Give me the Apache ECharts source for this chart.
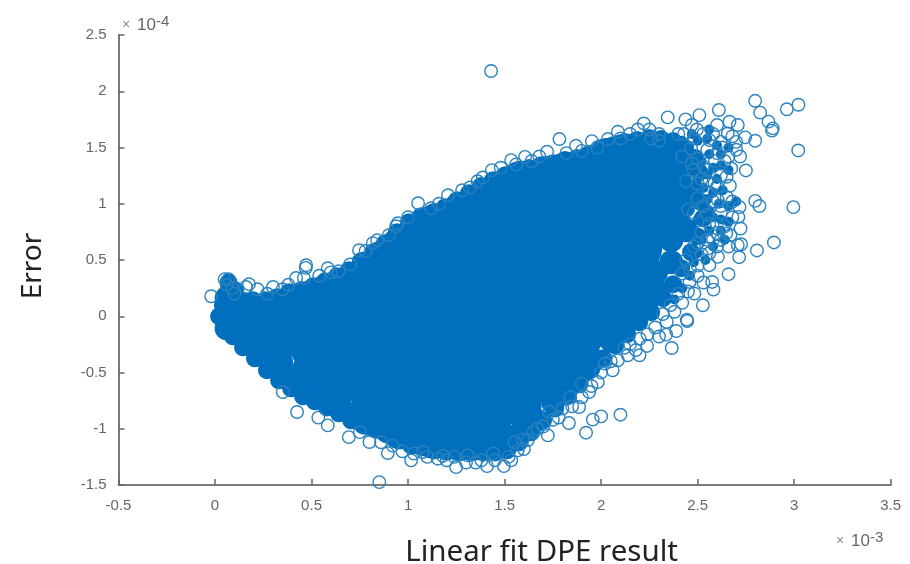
<!DOCTYPE html>
<html>
<head>
<meta charset="utf-8">
<style>html,body{margin:0;padding:0;background:#fff}#c{width:910px;height:564px;filter:blur(0.5px)}</style>
<script src="https://cdn.jsdelivr.net/npm/echarts@6/dist/echarts.min.js"></script>
</head>
<body>
<div id="c"></div>
<script>
// x values are in units of 10^-3, y values in units of 10^-4
const xTicks = [-0.5, 0, 0.5, 1, 1.5, 2, 2.5, 3, 3.5];
const yTicks = [-1.5, -1, -0.5, 0, 0.5, 1, 1.5, 2, 2.5];
const xName = 'Linear fit DPE result';
const yName = 'Error';

// solid interior of the cloud, read column by column
const denseColumns = [
  [0.19, [-0.1]],
  [0.34, [0, -0.2]],
  [0.50, [0.1, -0.1, -0.3, -0.5]],
  [0.65, [0.2, 0, -0.2, -0.4, -0.6]],
  [0.81, [0.4, 0.2, 0, -0.2, -0.4, -0.6, -0.8]],
  [0.96, [0.6, 0.4, 0.2, 0, -0.2, -0.4, -0.6, -0.8, -1.0]],
  [1.12, [0.8, 0.6, 0.4, 0.2, 0, -0.2, -0.4, -0.6, -0.8, -1.0]],
  [1.27, [0.9, 0.7, 0.5, 0.3, 0.1, -0.1, -0.3, -0.5, -0.7, -0.9, -1.1]],
  [1.43, [1.0, 0.8, 0.6, 0.4, 0.2, 0, -0.2, -0.4, -0.6, -0.8, -1.0]],
  [1.585, [1.2, 1.0, 0.8, 0.6, 0.4, 0.2, 0, -0.2, -0.4, -0.6, -0.8]],
  [1.74, [1.2, 1.0, 0.8, 0.6, 0.4, 0.2, 0, -0.2, -0.4, -0.6]],
  [1.90, [1.2, 1.0, 0.8, 0.6, 0.4, 0.2, 0, -0.2, -0.4]],
  [2.05, [1.4, 1.2, 1.0, 0.8, 0.6, 0.4, 0.2, 0]],
  [2.21, [1.4, 1.2, 1.0, 0.8, 0.6, 0.4, 0.2]],
  [2.36, [1.4, 1.2, 1.0, 0.8]]
];

// points that close the cloud up to its edge
const edgePoints = [
  [0.06,0.16],[0.06,0.01],[0.06,-0.107],[0.135,0.116],[0.228,0.071],[0.316,0.098],[0.394,0.142],
  [0.472,0.205],[0.549,0.249],[0.627,0.302],[0.705,0.374],[0.782,0.472],[0.86,0.569],[0.938,0.676],
  [1.016,0.783],[1.093,0.836],[1.171,0.907],[1.249,0.979],[1.326,1.041],[1.404,1.121],[1.482,1.192],
  [1.56,1.254],[1.637,1.281],[1.715,1.317],[1.793,1.343],[1.87,1.37],[1.948,1.415],[2.026,1.477],
  [2.104,1.512],[2.181,1.53],[2.259,1.548],[2.337,1.512],[2.404,1.432],
  [2.425,0.97],[2.363,0.676],[2.285,0.391],[2.207,0.169],[2.13,-0.053],[2.052,-0.214],[1.959,-0.391],
  [1.855,-0.587],[1.751,-0.765],[1.663,-0.925],[1.585,-1.032],[1.508,-1.148],[1.43,-1.174],[1.352,-1.174],
  [1.275,-1.174],[1.197,-1.174],[1.119,-1.157],[1.041,-1.121],[0.964,-1.068],[0.886,-1.014],[0.808,-0.961],
  [0.731,-0.89],[0.653,-0.819],[0.575,-0.73],[0.497,-0.649],[0.42,-0.552],[0.342,-0.409],[0.264,-0.302],
  [0.187,-0.214],[0.124,-0.125],[2.44,1.343],[2.44,1.032],[2.44,0.765],[2.363,0.48],[2.285,0.231],[2.207,0.098]
];

// points on the rim of the solid area
const rimPoints = [
  [0.041,0.098],[0.07,0.3],[0.073,0.231],[0.104,0.231],[0.135,0.142],[0.197,0.142],[0.259,0.142],[0.321,0.169],[0.383,0.214],
  [0.446,0.231],[0.508,0.267],[0.57,0.311],[0.632,0.356],[0.694,0.409],[0.756,0.489],[0.819,0.569],[0.881,0.649],
  [0.943,0.747],[1.005,0.836],[1.067,0.89],[1.13,0.925],[1.192,0.97],[1.254,1.032],[1.316,1.094],[1.378,1.157],
  [1.44,1.21],[1.503,1.254],[1.565,1.29],[1.627,1.317],[1.689,1.343],[1.751,1.361],[1.813,1.388],[1.876,1.406],
  [1.938,1.441],[2.0,1.495],[2.062,1.521],[2.124,1.548],[2.187,1.566],[2.249,1.584],[2.311,1.575],[2.373,1.557],
  [2.435,1.495],[2.487,1.406],[2.508,1.281],[2.487,1.139],[2.518,1.014],[2.528,0.872],[2.497,0.712],[2.466,0.569],
  [2.415,0.427],[2.373,0.285],[2.321,0.16],[2.259,0.036],[2.197,-0.053],[2.135,-0.16],[2.073,-0.258],[2.01,-0.374],
  [1.948,-0.472],[1.886,-0.605],[1.824,-0.712],[1.762,-0.819],[1.699,-0.925],[1.637,-1.032],[1.575,-1.121],[1.513,-1.192],
  [1.451,-1.21],[1.389,-1.21],[1.326,-1.21],[1.264,-1.21],[1.202,-1.201],[1.14,-1.192],[1.078,-1.165],[1.016,-1.148],
  [0.953,-1.103],[0.891,-1.05],[0.829,-1.005],[0.767,-0.97],[0.705,-0.925],[0.642,-0.863],[0.58,-0.81],[0.518,-0.756],
  [0.456,-0.712],[0.394,-0.641],[0.332,-0.569],[0.269,-0.48],[0.207,-0.374],[0.145,-0.276],[0.093,-0.178],[0.052,-0.089],[0.021,0]
];

// tight clusters in the thinning upper-right part of the cloud
const clusterPoints = [
  [2.5,1.56],[2.55,1.58],[2.6,1.52],[2.56,1.44],[2.62,1.44],[2.66,1.5],[2.52,1.38],[2.58,1.32],[2.62,1.34],[2.55,1.26],
  [2.6,1.22],[2.53,1.14],[2.58,1.1],[2.63,1.12],[2.55,1.04],[2.61,1.0],[2.66,0.98],[2.56,0.94],[2.62,0.86],[2.58,0.88],
  [2.66,0.84],[2.56,0.76],[2.62,0.76],[2.52,0.68],[2.58,0.62],[2.64,0.68],[2.5,0.56],[2.54,0.5],[2.48,0.48],[2.46,0.36],
  [2.42,0.25],[2.38,0.15],[2.47,1.62],[2.42,1.56],[2.56,1.66],[2.66,1.3],[2.5,0.86],[2.7,1.02]
];

// individually visible circles
const ringPoints = [
  [1.430,2.18],[2.798,1.915],[2.824,1.81],[2.867,1.73],[2.885,1.65],[2.889,1.67],[2.962,1.84],[3.022,1.88],
  [3.021,1.474],[2.996,0.97],[2.895,0.656],[2.807,0.585],[2.715,0.525],[2.66,0.374],[2.582,0.237],[2.575,0.305],
  [2.527,0.098],[2.444,-0.03],[2.75,1.296],[2.798,1.56],[2.667,1.16],[2.798,1.026],[2.82,0.98],[2.717,0.97],
  [2.711,0.883],[2.722,0.78],[2.725,0.64],[2.648,0.736],[2.605,1.03],[2.61,1.833],[2.509,1.788],[2.345,1.768],
  [2.221,1.714],[2.19,1.66],[2.087,1.64],[1.952,1.557],[1.87,1.515],[1.784,1.575],[1.72,1.462],[1.606,1.417],
  [1.534,1.388],[1.434,1.299],[1.387,1.234],[1.321,1.145],[2.035,1.575],[2.437,1.75],[2.496,1.66],[2.601,1.70],
  [2.665,1.729],[2.708,1.70],[2.746,1.59],[2.656,1.625],[2.561,1.566],[2.466,1.492],[2.674,1.314],[2.587,1.18],
  [2.708,0.632],[2.561,0.454],[2.605,0.528],[2.553,0.602],[2.458,0.305],[2.483,0.202],
  [2.446,-0.042],[2.366,-0.282],[2.389,-0.131],[2.337,-0.163],[2.199,-0.347],[2.238,-0.264],[2.1,-0.875],[2.0,-0.89],
  [1.957,-0.919],[1.922,-1.035],[1.833,-0.949],[1.724,-1.059],[1.594,-1.097],[1.568,-1.192],[1.534,-1.281],
  [1.496,-1.332],[1.409,-1.332],[1.886,-0.807],[1.80,-0.821],[1.983,-0.585],[2.087,-0.391],[2.138,-0.347],[1.938,-0.673],
  [0.851,-1.474],[0.693,-1.074],[0.8,-1.118],[0.895,-1.216],[1.016,-1.281],[1.249,-1.341],[1.154,-1.266],[0.584,-0.97],
  [0.535,-0.901],[0.425,-0.851],[0.351,-0.673],[1.309,-1.237],[1.076,-1.207],
  [-0.02,0.178],[0.176,0.285],[0.47,0.43],[0.6,0.39],[0.746,0.587],[0.84,0.676],[0.938,0.8],[1.052,1.005],[1.119,0.96],
  [1.207,1.076],[0.947,0.827],[0.817,0.65],[0.472,0.454],[0.584,0.427],[0.05,0.33],[0.07,0.33],[0.06,0.28],[0.09,0.25],
  [0.1,0.2],[0.27,0.2],[0.35,0.24],[0.42,0.34],
  [2.5,1.4],[2.55,1.3],[2.6,1.45],[2.64,1.38],[2.52,1.22],[2.48,1.3],[2.44,1.2],[2.56,1.1],[2.62,1.25],[2.5,1.05],
  [2.45,0.95],[2.55,0.9],[2.6,0.82],[2.52,0.75],[2.58,0.68],[2.48,0.62],[2.44,0.5],[2.5,0.45],[2.42,0.38],[2.4,0.2],
  [2.36,0.1],[2.32,0.02],[2.28,-0.1],[2.2,-0.2],[2.15,-0.25],[2.05,-0.4],[2.0,-0.5],[1.9,-0.72],[1.85,-0.8],[1.75,-0.92],
  [1.7,-0.98],[1.65,-1.03],[1.6,-1.18],[1.45,-1.28],[1.35,-1.3],[1.2,-1.28],[1.1,-1.25],[0.97,-1.2],[0.75,-1.03],
  [2.48,1.58],[2.4,1.62],[2.3,1.62],[2.25,1.66],[2.15,1.62],[2.55,1.48],[2.42,1.42],[2.7,1.55],[2.62,1.55],[2.72,1.42],
  [2.65,1.06],[2.68,0.88],[2.62,0.92],[2.66,0.62],[2.6,0.62],[2.52,0.55],[2.46,0.42],
  [2.43,1.62],[2.47,1.7],[2.53,1.62],[2.58,1.62],[2.63,1.5],[2.68,1.6],[2.7,1.48],[2.66,1.42],[2.59,1.38],[2.53,1.33],
  [2.47,1.36],[2.5,1.18],[2.55,1.2],[2.6,1.15],[2.65,1.24],[2.58,1.02],[2.53,0.98],[2.48,0.92],[2.62,0.98],[2.68,1.02],
  [2.56,0.82],[2.64,0.8],[2.6,0.74],[2.55,0.68],[2.5,0.65],[2.67,0.72],[2.62,0.68],[2.56,0.56],[2.5,0.36],[2.53,0.3],
  [2.45,0.22],[2.42,0.12],[2.38,0.04],[2.34,-0.05],[2.3,-0.18],[2.24,-0.16],[2.18,-0.3],[2.12,-0.28],[2.06,-0.48],[2.02,-0.42],
  [1.95,-0.62],[1.9,-0.6],[1.84,-0.72],[1.78,-0.9],[1.73,-0.85],[1.67,-1.0],[1.62,-1.1],[1.55,-1.12],[1.52,-1.25],[1.44,-1.22],
  [1.38,-1.28],[1.3,-1.3],[1.24,-1.25],[1.18,-1.24],[1.03,-1.22],[0.92,-1.15],[0.86,-1.12],
  [2.3,1.56],[2.26,1.58],[2.1,1.58],[1.98,1.5],[1.9,1.47],[1.82,1.45],[1.68,1.42],[1.64,1.38],[1.56,1.35],[1.48,1.32],
  [1.36,1.2],[1.28,1.12],[1.16,1.0],[1.0,0.88],[0.9,0.72],[0.78,0.58],[0.7,0.46],[0.64,0.4],[0.54,0.36],[0.46,0.34],
  [0.38,0.28],[0.3,0.26],[0.22,0.24],[0.16,0.26]
];

const denseData = [];
denseColumns.forEach(function (col) {
  col[1].forEach(function (y) { denseData.push([col[0], y]); });
});

const color = '#0070BE';
const chart = echarts.init(document.getElementById('c'), null, { renderer: 'canvas' });

function exponent(x, y, power) {
  return {
    type: 'text', left: x, top: y, silent: true,
    style: {
      text: '{a|\u00d7 }{b|10}{c|' + power + '}',
      rich: {
        a: { fontSize: 14, fill: '#888', fontFamily: 'Liberation Sans', padding: [0, 3, 0, 0] },
        b: { fontSize: 17, fill: '#666', fontFamily: 'Liberation Sans' },
        c: { fontSize: 15, fill: '#666', fontFamily: 'Liberation Sans', verticalAlign: 'top', padding: [0, 0, 8, 0] }
      }
    }
  };
}

const axisCommon = {
  type: 'value',
  interval: 0.5,
  splitLine: { show: false },
  axisLine: { show: true, onZero: false, lineStyle: { color: '#7a7a7a', width: 2 } },
  axisTick: { show: true, inside: true, length: 6, lineStyle: { color: '#666', width: 1.5 } },
  axisLabel: { color: '#666', fontSize: 15, fontFamily: 'Liberation Sans', hideOverlap: false, showMinLabel: true, showMaxLabel: true }
};

chart.setOption({
  animation: false,
  backgroundColor: '#fff',
  grid: { left: 118.5, right: 19.3, top: 35, bottom: 79, outerBoundsMode: 'none' },
  xAxis: Object.assign({}, axisCommon, {
    min: xTicks[0], max: xTicks[xTicks.length - 1],
    name: xName, nameLocation: 'middle', nameGap: 53,
    nameTextStyle: { color: '#222', fontSize: 29.5, fontFamily: 'Noto Sans', padding: [0, 0, 0, 74] },
    axisLabel: Object.assign({}, axisCommon.axisLabel, { margin: 13 })
  }),
  yAxis: Object.assign({}, axisCommon, {
    min: yTicks[0], max: yTicks[yTicks.length - 1],
    name: yName, nameLocation: 'middle', nameGap: 71,
    nameTextStyle: { color: '#222', fontSize: 28, fontFamily: 'Noto Sans', padding: [0, 12, 0, 0] },
    axisLabel: Object.assign({}, axisCommon.axisLabel, { margin: 12 })
  }),
  graphic: [exponent(122, 14, '-4'), exponent(836, 530, '-3')],
  series: [
    { type: 'scatter', data: denseData, symbol: 'circle', symbolSize: 41, clip: false, silent: true,
      itemStyle: { color: color, opacity: 1 } },
    { type: 'scatter', data: edgePoints, symbol: 'circle', symbolSize: 24, clip: false, silent: true,
      itemStyle: { color: color, opacity: 1 } },
    { type: 'scatter', data: rimPoints, symbol: 'circle', symbolSize: 18, clip: false, silent: true,
      itemStyle: { color: color, opacity: 1 } },
    { type: 'scatter', data: clusterPoints, symbol: 'circle', symbolSize: 10, clip: false, silent: true,
      itemStyle: { color: color, opacity: 1 } },
    { type: 'scatter', data: ringPoints, symbol: 'circle', symbolSize: 12.5, clip: false, silent: true,
      itemStyle: { color: 'rgba(0,0,0,0)', borderColor: '#2a82c0', borderWidth: 1.4, opacity: 1 } }
  ]
});
</script>
</body>
</html>
